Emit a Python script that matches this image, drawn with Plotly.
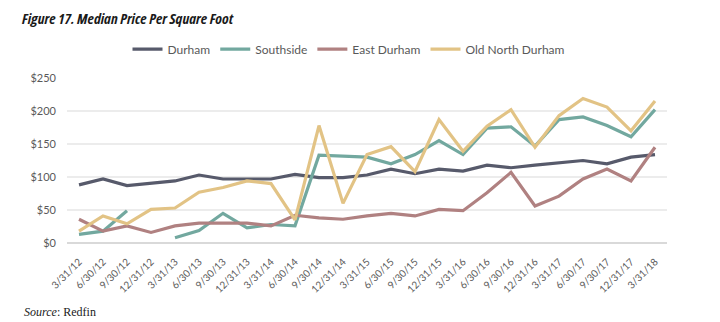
import plotly.graph_objects as go

quarters = ["3/31/12", "6/30/12", "9/30/12", "12/31/12", "3/31/13", "6/30/13", "9/30/13",
            "12/31/13", "3/31/14", "6/30/14", "9/30/14", "12/31/14", "3/31/15", "6/30/15",
            "9/30/15", "12/31/15", "3/31/16", "6/30/16", "9/30/16", "12/31/16", "3/31/17",
            "6/30/17", "9/30/17", "12/31/17", "3/31/18"]

durham = [88, 97, 87, 90, 94, 103, 97, 97, 97, 104, 99, 99, 103, 112, 105, 112,
          109, 118, 114, 118, 122, 125, 120, 130, 134]
southside = [13, 18, 49, None, 8, 19, 45, 23, 28, 26, 133, 131, 130, 120, 134, 155,
             134, 174, 176, 147, 187, 191, 178, 161, 202]
east_durham = [36, 18, 26, 16, 26, 30, 30, 30, 26, 42, 38, 36, 41, 45, 41, 51,
               49, 76, 107, 56, 71, 97, 112, 94, 145]
old_north = [18, 41, 29, 51, 53, 77, 84, 94, 90, 35, 178, 60, 134, 146, 108, 187,
             139, 177, 202, 145, 193, 219, 206, 170, 215]

y_ticks = [0, 50, 100, 150, 200, 250]
y_tick_text = ["$0", "$50", "$100", "$150", "$200", "$250"]

series = [
    ("Durham", durham, "#575a6b"),
    ("Southside", southside, "#72a89f"),
    ("East Durham", east_durham, "#b08181"),
    ("Old North Durham", old_north, "#e2c385"),
]

fig = go.Figure()
for name, vals, color in series:
    fig.add_trace(go.Scatter(x=quarters, y=vals, name=name, mode="lines",
                             line=dict(color=color, width=3.2),
                             connectgaps=False))

sans = "Lato, Open Sans, sans-serif"
tick_font = dict(family=sans, size=11, color="#595959")

fig.update_layout(
    width=720, height=322,
    margin=dict(l=67, r=53, t=78, b=79, autoexpand=False),
    paper_bgcolor="white", plot_bgcolor="white",
    title=dict(text="<span style=\"font-stretch:75%\">Figure 17. Median Price Per Square Foot</span>",
               xref="container", x=22 / 720, xanchor="left",
               yref="container", y=1 - 19 / 322, yanchor="middle",
               font=dict(family="Open Sans, sans-serif", size=15, color="#1a1a1a",
                         weight="bold", style="italic")),
    showlegend=True,
    legend=dict(orientation="h", x=0.47, xanchor="center", y=1.175, yanchor="middle",
                font=dict(family=sans, size=12, color="#595959"),
                itemwidth=30, traceorder="normal"),
    xaxis=dict(type="category", range=[-0.5, len(quarters) - 0.5],
               tickangle=-45, tickfont=dict(family=sans, size=10, color="#595959"),
               showgrid=False, showline=False, zeroline=False, ticks="",
               ticklabelstandoff=10, automargin=False),
    yaxis=dict(range=[0, 250], tickmode="array", tickvals=y_ticks, ticktext=y_tick_text,
               tickfont=tick_font, showgrid=True, gridcolor="#ececec", gridwidth=1.5,
               zeroline=True, zerolinecolor="#d9d9d9", zerolinewidth=2,
               showline=False, ticks="", ticklabelstandoff=10, automargin=False),
    annotations=[
        dict(text="<i>Source</i>: Redfin", xref="paper", yref="paper",
             x=(22 - 67) / 600, xanchor="left", y=-(312 - 243) / 165, yanchor="middle",
             showarrow=False,
             font=dict(family="Liberation Serif, Times New Roman, serif", size=12, color="#1a1a1a")),
    ],
)

fig.write_html("out.html")
